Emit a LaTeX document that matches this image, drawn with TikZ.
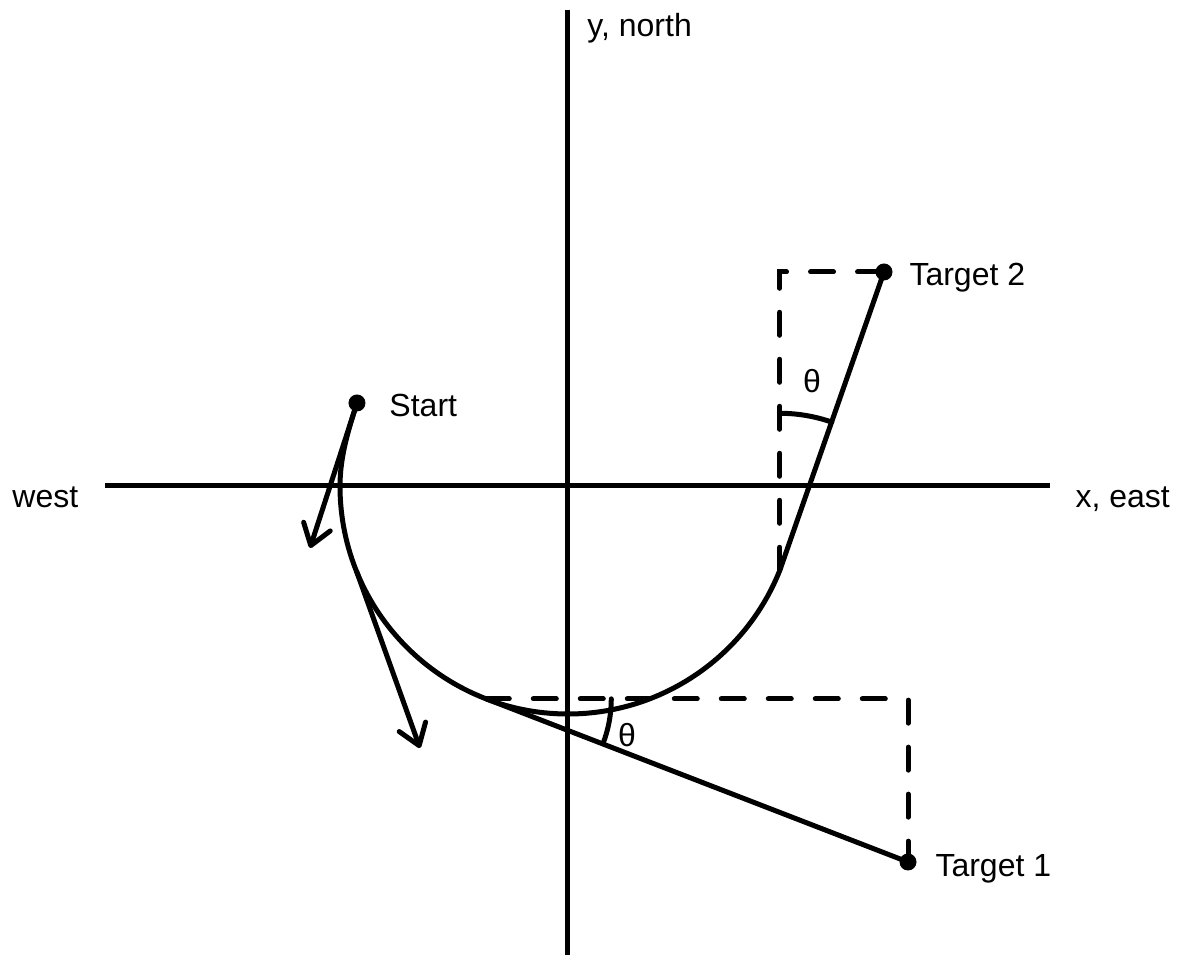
\documentclass[tikz,border=0pt]{standalone}
\usepackage{fontspec}
\setmainfont{Liberation Sans}
\usetikzlibrary{arrows.meta}
\begin{document}
\begin{tikzpicture}[x=1pt,y=1pt,line width=5pt,line cap=round,
  dot/.style={circle,fill,inner sep=0pt,minimum size=17pt},
  lbl/.style={font=\fontsize{32}{38}\selectfont,inner sep=0pt},
  dsh/.style={dash pattern=on 23pt off 24pt},
  arr/.style={-{Straight Barb[length=20pt,width=28pt,round]}}]
\useasboundingbox (-568,-474) rectangle (613,486);
% axes
\coordinate (ytop) at (0,476);
\coordinate (ybot) at (0,-469);
\coordinate (xl) at (-463,0);
\coordinate (xr) at (482,0);
\draw[line cap=butt] (xl) -- (xr);
\draw[line cap=butt] (ytop) -- (ybot);
% points
\node[dot] (S) at (-211,83) {};
\node[dot] (T2) at (316,214) {};
\node[dot] (T1) at (340,-376) {};
\coordinate (L) at (180:228);
\coordinate (B) at (249:228);
\coordinate (R) at (338.3:228);
\coordinate (P) at (202:228);
\coordinate (A1) at (-258,-62);
\coordinate (A2) at (-148,-262);
\coordinate (C2) at (R |- T2);
\coordinate (C1) at (T1 |- B);
% path
\draw (S.center) .. controls (-219,58) and (-228,30) .. (L)
  arc[start angle=180,end angle=338.3,radius=228];
\draw[arr] (S.center) -- (A1);
\draw[arr] (P) -- (A2);
\draw (R) -- (T2.center);
\draw (B) -- (T1.center);
\draw[dsh] (R) -- (C2) -- (T2.center);
\draw[dsh] (B) -- (C1) -- (T1.center);
% angle arcs
\draw (R) ++(90:157) arc[start angle=90,end angle=70.7,radius=157];
\draw (B) ++(0:125) arc[start angle=0,end angle=-21.1,radius=125];
% labels
\node[lbl,anchor=base west] (ylab) at (17,449) {y, north};
\node[lbl,anchor=base west] (wlab) at (-558,-22) {west};
\node[lbl,anchor=base west] (xlab) at (505,-22) {x, east};
\node[lbl,anchor=base west] (slab) at (-181,69) {Start};
\node[lbl,anchor=base west] (t2lab) at (339,200) {Target 2};
\node[lbl,anchor=base west] (t1lab) at (365,-390) {Target 1};
\node[lbl] (th2) at (244,105) {θ};
\node[lbl] (th1) at (59,-249) {θ};
\end{tikzpicture}
\end{document}
